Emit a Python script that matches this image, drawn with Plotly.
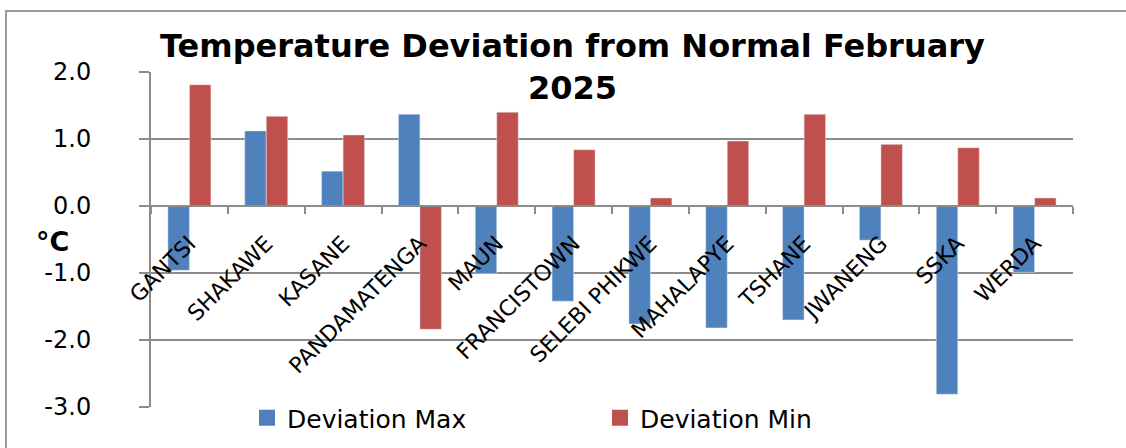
import plotly.graph_objects as go

stations = ["GANTSI", "SHAKAWE", "KASANE", "PANDAMATENGA", "MAUN", "FRANCISTOWN",
            "SELEBI PHIKWE", "MAHALAPYE", "TSHANE", "JWANENG", "SSKA", "WERDA"]
dev_max = [-0.96, 1.12, 0.52, 1.37, -1.01, -1.42, -1.76, -1.82, -1.70, -0.51, -2.81, -0.99]
dev_min = [1.81, 1.34, 1.06, -1.84, 1.40, 0.84, 0.12, 0.97, 1.37, 0.92, 0.87, 0.12]
y_ticks = [2.0, 1.0, 0.0, -1.0, -2.0, -3.0]
y_ticktext = ["%.1f" % v for v in y_ticks]
series_names = ["Deviation Max", "Deviation Min"]
title_text = "Temperature Deviation from Normal February<br>2025"
unit_text = "°C"

BLUE = "#4F81BD"
RED = "#C0504D"
GRID = "#8c8c8c"

W, H = 1126, 448
L, R, T, B = 151, 53, 72, 41
PW, PH = W - L - R, H - T - B


def px_x(p):
    return (p - L) / PW


def px_y(p):
    return (H - B - p) / PH


fig = go.Figure()
for name, vals, col in [(series_names[0], dev_max, BLUE), (series_names[1], dev_min, RED)]:
    fig.add_trace(go.Bar(x=stations, y=vals, name=name, marker_color=col,
                         showlegend=False, legendgroup=name))
# legend proxies (larger square swatches like the reference)
for name, col in [(series_names[0], BLUE), (series_names[1], RED)]:
    fig.add_trace(go.Scatter(x=[None], y=[None], mode="markers", name=name,
                             legendgroup=name,
                             marker=dict(symbol="square", size=18, color=col)))

ymin, ymax = -3.0, 2.0
zero_pos = (0 - ymin) / (ymax - ymin)

fig.update_layout(
    width=W, height=H,
    margin=dict(l=L, r=R, t=T, b=B, autoexpand=False),
    paper_bgcolor="white", plot_bgcolor="white",
    barmode="group", bargap=0.44, bargroupgap=0,
    font=dict(family="DejaVu Sans", color="black"),
    showlegend=True,
    legend=dict(
        orientation="h", x=px_x(247), xanchor="left",
        y=px_y(418), yanchor="middle",
        font=dict(family="DejaVu Sans", size=25, color="black"),
        entrywidth=308, entrywidthmode="pixels",
        bgcolor="rgba(0,0,0,0)", traceorder="normal", itemsizing="trace",
    ),
    xaxis=dict(
        type="category", anchor="free", position=zero_pos,
        showline=True, linecolor=GRID, linewidth=2,
        ticks="outside", tickson="boundaries", ticklen=7, tickwidth=2, tickcolor=GRID,
        tickangle=-45, tickfont=dict(family="DejaVu Sans", size=22, color="black"),
        ticklabelstandoff=15,
        showgrid=False, zeroline=False,
    ),
    yaxis=dict(
        range=[ymin, ymax], tickvals=y_ticks, ticktext=y_ticktext,
        showline=True, linecolor=GRID, linewidth=2,
        ticks="outside", ticklen=10, tickwidth=2, tickcolor=GRID,
        showgrid=True, gridcolor=GRID, gridwidth=2,
        zeroline=False,
        tickfont=dict(family="DejaVu Sans", size=24, color="black"),
        ticklabelstandoff=43,
    ),
    annotations=[
        dict(text="<b>" + title_text + "</b>", x=px_x(572), y=px_y(67),
             xref="paper", yref="paper", xanchor="center", yanchor="middle",
             showarrow=False, align="center",
             font=dict(family="DejaVu Sans", size=32, color="black")),
        dict(text="<b>" + unit_text + "</b>", x=px_x(52), y=px_y(241),
             xref="paper", yref="paper", xanchor="center", yanchor="middle",
             showarrow=False,
             font=dict(family="DejaVu Sans", size=27, color="black")),
    ],
    shapes=[
        dict(type="rect", xref="paper", yref="paper",
             x0=px_x(6), x1=px_x(W + 20),
             y0=px_y(H + 20), y1=px_y(11),
             line=dict(color="#9a9a9a", width=2), layer="below"),
    ],
)

fig.write_html("out.html", config={"displayModeBar": False},
               post_script="document.body.style.margin='0';")
